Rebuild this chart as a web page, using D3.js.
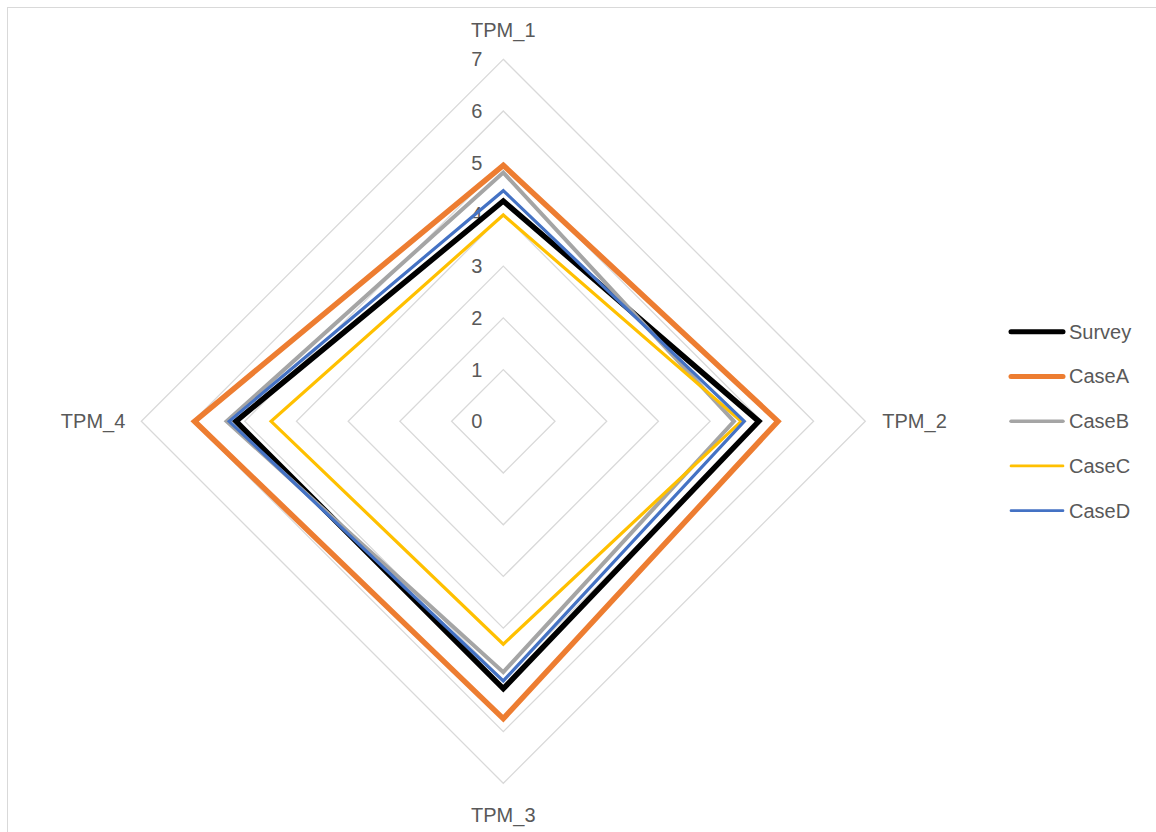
<!DOCTYPE html>
<html>
<head>
<meta charset="utf-8">
<script src="https://cdn.jsdelivr.net/npm/d3@7"></script>
<style>
  html, body { margin: 0; padding: 0; background: #ffffff; }
  svg { display: block; }
  text { font-family: "Liberation Sans", Arial, sans-serif; fill: #595959; }
</style>
</head>
<body>
<svg id="chart" width="1156" height="832"></svg>
<script>
// ---- data ----
const axesLabels = ["TPM_1", "TPM_2", "TPM_3", "TPM_4"];
const tickValues = [0, 1, 2, 3, 4, 5, 6, 7];
const seriesNames = ["Survey", "CaseA", "CaseB", "CaseC", "CaseD"];
const survey = [4.26, 4.94, 5.17, 5.17];
const caseA  = [4.95, 5.31, 5.75, 5.97];
const caseB  = [4.81, 4.46, 4.85, 5.35];
const caseC  = [3.99, 4.60, 4.31, 4.49];
const caseD  = [4.46, 4.66, 5.02, 5.30];
const seriesColors = ["#000000", "#ED7D31", "#A5A5A5", "#FFC000", "#4472C4"];
const seriesWidths = [5.5, 5.5, 4, 3.2, 3.2];

const seriesValues = [survey, caseA, caseB, caseC, caseD];

// ---- layout ----
const svg = d3.select("#chart");
const cx = 503.3, cy = 421.3;
const r = d3.scaleLinear().domain([0, 7]).range([0, 362]);
const angle = d3.scalePoint().domain(axesLabels).range([0, 270]); // degrees clockwise from top

function pt(label, v) {
  const a = angle(label) * Math.PI / 180;
  return [cx + r(v) * Math.sin(a), cy - r(v) * Math.cos(a)];
}

// chart border
svg.append("rect")
  .attr("x", 7.5).attr("y", 7.5)
  .attr("width", 1200).attr("height", 900)
  .attr("fill", "none").attr("stroke", "#d9d9d9").attr("stroke-width", 1);

// grid diamonds
const line = d3.line().curve(d3.curveLinearClosed);
tickValues.filter(t => t > 0).forEach(t => {
  svg.append("path")
    .attr("d", line(axesLabels.map(l => pt(l, t))))
    .attr("fill", "none")
    .attr("stroke", "#d9d9d9")
    .attr("stroke-width", 1.3);
});

// tick labels
svg.append("g").selectAll("text")
  .data(tickValues)
  .join("text")
  .attr("x", cx - 21)
  .attr("y", d => cy - r(d))
  .attr("text-anchor", "end")
  .attr("dominant-baseline", "central")
  .attr("font-size", 20)
  .text(d => d);

// series
seriesValues.forEach((vals, i) => {
  svg.append("path")
    .attr("d", line(axesLabels.map((l, j) => pt(l, vals[j]))))
    .attr("fill", "none")
    .attr("stroke", seriesColors[i])
    .attr("stroke-width", seriesWidths[i])
    .attr("stroke-linejoin", "miter");
});

// axis labels
const lab = svg.append("g").attr("font-size", 20);
lab.append("text").attr("x", cx).attr("y", cy - r(7) - 22.5).attr("text-anchor", "middle").text(axesLabels[0]);
lab.append("text").attr("x", cx + r(7) + 17).attr("y", cy).attr("dominant-baseline", "central").attr("text-anchor", "start").text(axesLabels[1]);
lab.append("text").attr("x", cx).attr("y", cy + r(7) + 39).attr("text-anchor", "middle").text(axesLabels[2]);
lab.append("text").attr("x", cx - r(7) - 16).attr("y", cy).attr("dominant-baseline", "central").attr("text-anchor", "end").text(axesLabels[3]);

// legend
const legY = d3.scalePoint().domain(seriesNames).range([331.7, 510.7]);
const leg = svg.append("g");
seriesNames.forEach((n, i) => {
  leg.append("line")
    .attr("x1", 1011).attr("x2", 1063)
    .attr("y1", legY(n)).attr("y2", legY(n))
    .attr("stroke", seriesColors[i])
    .attr("stroke-width", seriesWidths[i] - 0.5)
    .attr("stroke-linecap", "round");
  leg.append("text")
    .attr("x", 1069).attr("y", legY(n))
    .attr("dominant-baseline", "central")
    .attr("font-size", 20)
    .text(n);
});
</script>
</body>
</html>
